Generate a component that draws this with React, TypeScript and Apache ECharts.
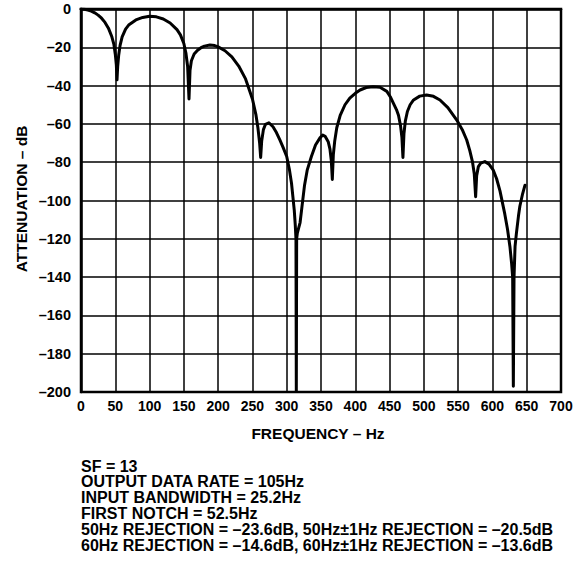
import React, { useEffect, useRef } from "react";
import * as echarts from "echarts";

const frequencyHz = [
  0, 5, 10, 15, 20, 25, 30, 35, 40, 45, 48, 50, 51.5, 52.5, 53.5, 55, 57, 60, 65, 70, 80, 90, 100, 110, 120,
  130, 140, 145, 150, 153, 155.5, 157.5, 159, 161, 165, 170, 175, 180, 188, 195, 200, 210, 220, 230, 240, 250,
  255, 258, 260.5, 262, 263.5, 266, 269, 274, 280, 285, 290, 295, 300, 304, 307, 309, 311, 312.5, 313.5, 314,
  314.5, 315.5, 317, 319.5, 322, 326, 330, 336, 342, 348.5, 352.5, 356, 360.5, 363, 365, 366.5, 368, 370, 373,
  378, 385, 392, 400, 407, 416, 426, 436, 446, 451, 456, 460, 463, 466, 468, 469.5, 471, 473, 476, 480, 485,
  494, 504, 514, 523.5, 535, 548, 556, 562.5, 567, 571, 573.5, 575.5, 577, 579.5, 583, 589, 595, 601, 606, 611,
  618, 622, 625.5, 628, 629.5, 630.5, 631.5, 633, 635, 638, 640, 644, 647.5,
];

const attenuationDb = [
  0, -0.1, -0.5, -1.1, -2, -3.2, -4.8, -7, -10, -14.5, -18.5, -23.6, -29, -37, -30, -24, -19, -14.6, -10.5, -8.2,
  -5.7, -4.4, -3.8, -4.1, -5.2, -7.3, -10.8, -13.5, -18, -23, -30, -47, -32, -27, -23.5, -21.5, -20.2, -19.4,
  -18.8, -19.1, -19.8, -21.8, -25, -29.8, -36.5, -47, -55, -62, -70, -77.5, -69, -63, -60.2, -59.4, -61.5,
  -64.5, -68.4, -72.5, -77, -84, -91, -98, -105, -113, -120, -199.5, -120, -117, -115, -111.5, -104, -92, -84,
  -77, -71, -67.3, -65.8, -66.5, -69.3, -73, -79, -89, -76, -69, -62, -55.5, -50, -46.5, -44, -42.3, -41, -40.6,
  -40.9, -43, -45.8, -49.5, -52.5, -55.5, -61, -67, -77.5, -65, -58.5, -53.5, -50, -47.5, -45.5, -44.9, -45.6,
  -47.5, -51.5, -58, -63, -68.4, -74, -80, -86, -98, -87, -82.3, -80.5, -79.7, -81, -84, -88.5, -95, -107,
  -115, -124, -133, -140, -197, -140, -124, -117, -108, -103, -96.5, -92,
];

const xAxisTitle = "FREQUENCY – Hz";
const yAxisTitle = "ATTENUATION – dB";

const noteLines = [
  "SF = 13",
  "OUTPUT DATA RATE = 105Hz",
  "INPUT BANDWIDTH = 25.2Hz",
  "FIRST NOTCH = 52.5Hz",
  "50Hz REJECTION = –23.6dB, 50Hz±1Hz REJECTION = –20.5dB",
  "60Hz REJECTION = –14.6dB, 60Hz±1Hz REJECTION = –13.6dB",
];

const FONT = '"Liberation Sans", Arial, Helvetica, sans-serif';

export default function App() {
  const ref = useRef<HTMLDivElement>(null);

  useEffect(() => {
    if (!ref.current) return;
    const chart = echarts.init(ref.current, undefined, { renderer: "svg" });
    const data = frequencyHz.map((f, i) => [f, attenuationDb[i]]);

    const noteGraphics = noteLines.map((line, i) => ({
      type: "text",
      left: 81,
      top: 458 + i * 15.8,
      style: {
        text: line,
        font: `bold 16px ${FONT}`,
        fill: "#000",
      },
    }));

    chart.setOption({
      animation: false,
      backgroundColor: "#fff",
      grid: {
        left: 81,
        top: 9,
        right: 21,
        bottom: 179,
        show: true,
        borderColor: "#000",
        borderWidth: 2.5,
      },
      xAxis: {
        type: "value",
        min: 0,
        max: 700,
        interval: 50,
        axisLine: { show: true, lineStyle: { color: "#000", width: 2.5 } },
        axisTick: { show: false },
        splitLine: { show: true, lineStyle: { color: "#000", width: 1.5 } },
        axisLabel: {
          margin: 7,
          color: "#000",
          fontFamily: FONT,
          fontWeight: "bold",
          fontSize: 14,
        },
      },
      yAxis: {
        type: "value",
        min: -200,
        max: 0,
        interval: 20,
        axisLine: { show: true, lineStyle: { color: "#000", width: 2.5 } },
        axisTick: { show: false },
        splitLine: { show: true, lineStyle: { color: "#000", width: 1.5 } },
        axisLabel: {
          margin: 10,
          color: "#000",
          fontFamily: FONT,
          fontWeight: "bold",
          fontSize: 14.5,
          formatter: (v: number) => String(v).replace("-", "–"),
        },
      },
      series: [
        {
          type: "line",
          data,
          showSymbol: false,
          symbol: "none",
          smooth: false,
          clip: true,
          lineStyle: { color: "#000", width: 3, join: "round", cap: "round" },
        },
      ],
      graphic: [
        {
          type: "text",
          x: 318,
          y: 433,
          style: {
            text: xAxisTitle,
            font: `bold 15.5px ${FONT}`,
            fill: "#000",
            align: "center",
            verticalAlign: "middle",
          },
        },
        {
          type: "text",
          x: 21,
          y: 199,
          rotation: Math.PI / 2,
          style: {
            text: yAxisTitle,
            font: `bold 15.5px ${FONT}`,
            fill: "#000",
            align: "center",
            verticalAlign: "middle",
          },
        },
        ...noteGraphics,
      ],
    });

    return () => chart.dispose();
  }, []);

  return (
    <div
      ref={ref}
      style={{ position: "absolute", left: 0, top: 0, width: 582, height: 571, background: "#fff" }}
    />
  );
}
